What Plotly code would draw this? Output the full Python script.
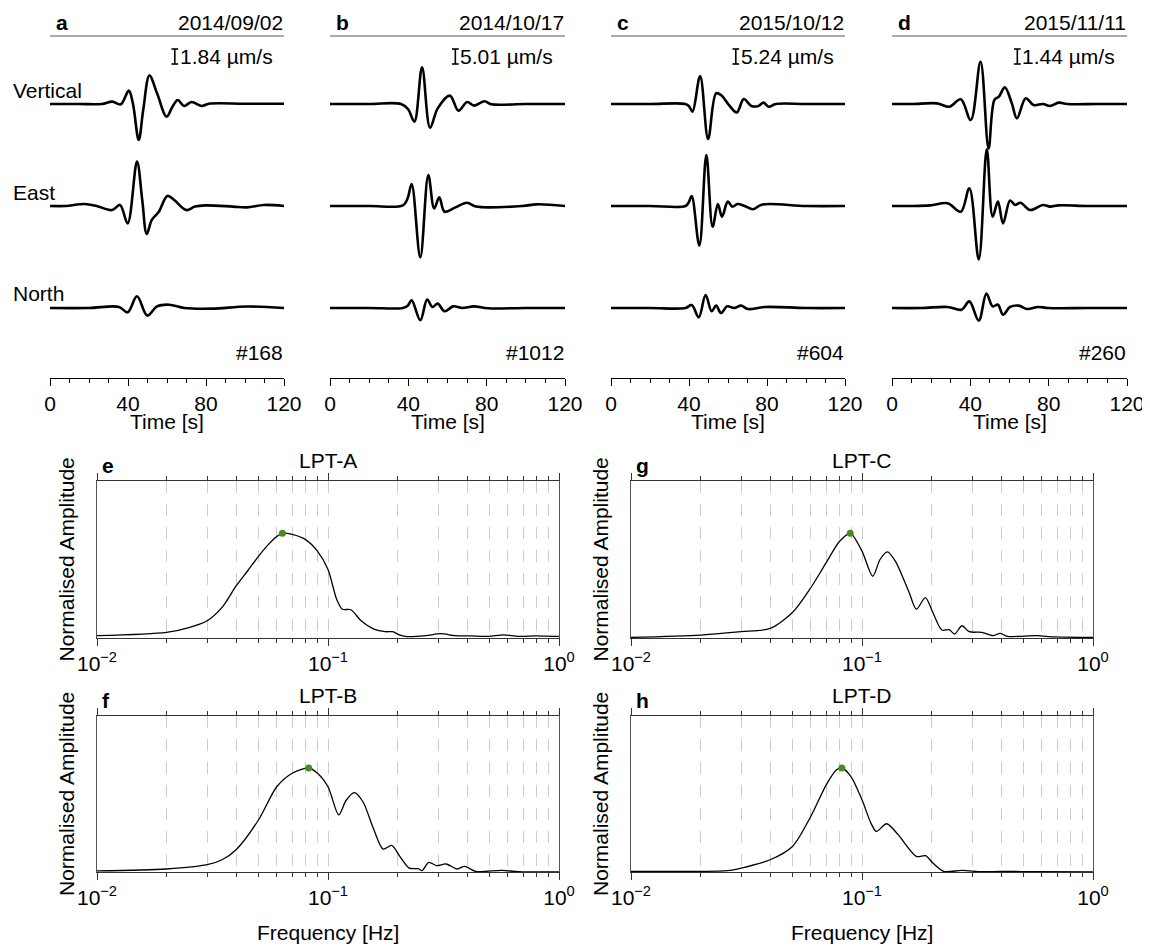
import plotly.graph_objects as go

W, H = 1150, 947
FONT = "Liberation Sans, Arial, Helvetica, sans-serif"
FS = 21

# ------------------------------------------------------------------ data
event_letters = ["a", "b", "c", "d"]
event_dates = ["2014/09/02", "2014/10/17", "2015/10/12", "2015/11/11"]
event_scales = ["1.84", "5.01", "5.24", "1.44"]          # µm/s per scale bar
event_ids = ["#168", "#1012", "#604", "#260"]
components = ["Vertical", "East", "North"]
time_ticks = [0, 40, 80, 120]

# waveforms: time [s] and amplitude in units of the panel's scale bar
a_vert_t = [0, 15, 26.6, 31.9, 36.3, 40.4, 42.5, 45.5, 47.8, 51.0, 54.9, 59.8, 62.8, 65.5, 68.7, 72.6, 77.9, 81.4, 100, 120]
a_vert_v = [0, 0, 0, 0.16, -0.02, 0.89, 0.04, -2.4, -0.4, 1.9, 0.71, -0.84, -0.18, 0.27, -0.13, 0.13, -0.13, 0.02, 0.02, 0.02]
a_east_t = [0, 8, 17.7, 23.9, 31.9, 35.9, 39.8, 44.6, 47.3, 49.6, 52.2, 55.8, 60.2, 63.7, 69.9, 74.3, 79.6, 93.8, 100.9, 109.7, 120]
a_east_v = [0, 0, 0.13, 0, -0.27, 0.07, -1.16, 2.96, 0.4, -1.87, -0.93, -0.38, 0.67, 0.4, -0.27, -0.04, 0.04, -0.04, -0.09, 0.07, 0]
a_north_t = [0, 20, 35.4, 39.8, 44.6, 49.9, 54.9, 61.1, 69.0, 83.2, 100.9, 120]
a_north_v = [0, 0, 0.07, -0.29, 0.78, -0.51, 0.11, 0.22, 0, -0.04, 0.1, 0]

b_vert_t = [0, 20, 36.3, 39.9, 43.1, 47.0, 51.1, 55.0, 61.2, 65.6, 70.0, 73.6, 78.9, 82.4, 100, 120]
b_vert_v = [0, 0, 0, -0.35, -1.18, 2.44, -1.58, -0.29, 0.56, -0.44, 0.13, -0.11, 0.18, -0.02, 0, 0]
b_east_t = [0, 20, 37.2, 39.6, 41.7, 46.1, 50.2, 53.2, 55.8, 58.5, 63.8, 70.0, 74.5, 98.4, 105.5, 120]
b_east_v = [0, 0, 0.04, 0.5, 1.47, -3.42, 2.07, -0.16, 0.58, -0.38, -0.11, 0.22, -0.04, 0, 0.11, 0]
b_north_t = [0, 20, 37.2, 39.7, 41.7, 46.1, 49.6, 52.3, 55.0, 58.5, 62.9, 67.4, 73.6, 80.7, 100, 120]
b_north_v = [0, 0, 0, 0.15, 0.51, -0.82, 0.56, 0.07, 0.29, -0.22, 0.11, 0, 0.11, -0.02, 0, 0]

c_vert_t = [0, 20, 38.2, 40.0, 41.8, 45.7, 49.8, 53.9, 56.4, 60.5, 64.5, 68.1, 72.0, 75.6, 78.2, 80.9, 84.5, 100, 120]
c_vert_v = [0, 0, 0, -0.15, -0.51, 1.87, -2.33, 0.71, 0.6, -0.07, -0.56, 0.33, -0.13, -0.13, 0.09, -0.18, 0, 0, 0]
c_east_t = [0, 20, 38.2, 39.9, 41.4, 45.3, 48.9, 52.1, 54.8, 56.9, 59.9, 62.2, 64.9, 68.5, 72.9, 77.3, 100, 120]
c_east_v = [0, 0, 0, 0.25, 0.67, -2.64, 3.4, -1.38, 0.13, -0.71, 0.29, -0.04, 0.13, 0, -0.22, 0.09, 0, 0]
c_north_t = [0, 20, 38.2, 41.4, 45.0, 48.5, 51.6, 53.9, 56.4, 59.6, 63.1, 66.7, 70.2, 79.1, 100, 120]
c_north_v = [0, 0, 0, 0.2, -0.62, 0.87, -0.22, 0.16, -0.33, 0.11, 0, 0.16, -0.07, 0.07, 0, 0]

d_vert_t = [0, 10, 23.0, 29.3, 35.1, 40.2, 45.2, 49.3, 52.3, 54.6, 57.6, 61.2, 63.8, 68.3, 72.3, 77.1, 80.7, 85.1, 89.5, 105, 120]
d_vert_v = [0, 0, 0.04, -0.18, 0.31, -1.07, 2.82, -2.96, 0.27, 0.49, 1.11, 0.04, -0.96, 0.38, -0.07, 0, -0.13, 0.09, 0, 0, 0]
d_east_t = [0, 10, 19.5, 28.4, 35.1, 39.5, 44.3, 48.4, 51.4, 54.1, 56.7, 60.3, 62.9, 65.6, 70.6, 77.1, 80.7, 85.1, 100, 120]
d_east_v = [0, 0, 0.04, 0.18, -0.38, 1.18, -3.56, 3.78, -0.71, 0.29, -1.16, 0.36, 0.07, 0.22, -0.27, 0.07, -0.04, 0.04, 0, 0]
d_north_t = [0, 15, 28.4, 35.5, 39.5, 44.3, 48.2, 51.4, 54.1, 56.7, 60.3, 64.7, 69.1, 74.5, 79.8, 100, 120]
d_north_v = [0, 0, 0.07, -0.11, 0.44, -0.84, 0.96, 0.11, 0.22, -0.44, 0.07, 0.16, -0.07, 0.07, 0, 0, 0]

# spectra: frequency [Hz] and normalised amplitude
spec_names = ["LPT-A", "LPT-B", "LPT-C", "LPT-D"]
spec_letters = ["e", "f", "g", "h"]
lpta_f = [0.01, 0.02, 0.025, 0.03, 0.035, 0.04, 0.045, 0.05, 0.055, 0.06, 0.0635, 0.07, 0.08, 0.09, 0.10, 0.109,
          0.1155, 0.1257, 0.139, 0.158, 0.177, 0.19, 0.205, 0.22, 0.265, 0.307, 0.356, 0.412, 0.496, 0.575, 0.666,
          0.80, 0.93, 1.0]
lpta_a = [0.022, 0.054, 0.10, 0.165, 0.30, 0.497, 0.645, 0.78, 0.89, 0.97, 1.0, 0.99, 0.94, 0.83, 0.655, 0.37,
          0.275, 0.27, 0.165, 0.085, 0.06, 0.06, 0.028, 0.013, 0.022, 0.041, 0.022, 0.02, 0.016, 0.03, 0.016,
          0.02, 0.016, 0.015]
lptb_f = [0.01, 0.02, 0.03, 0.0348, 0.04, 0.05, 0.06, 0.07, 0.0825, 0.09, 0.10, 0.1113, 0.1198, 0.13, 0.1415, 0.158,
          0.1733, 0.1887, 0.2046, 0.2244, 0.246, 0.2553, 0.273, 0.296, 0.3245, 0.3625, 0.39, 0.4358, 0.565, 0.666, 1.0]
lptb_a = [0.01, 0.029, 0.07, 0.118, 0.214, 0.50, 0.82, 0.95, 1.0, 0.95, 0.82, 0.55, 0.69, 0.764, 0.678, 0.406,
          0.22, 0.256, 0.15, 0.038, 0.032, 0.013, 0.093, 0.061, 0.077, 0.029, 0.054, 0.006, 0.016, 0.003, 0.0]
lptc_f = [0.01, 0.02, 0.03, 0.04, 0.05, 0.06, 0.07, 0.08, 0.0889, 0.10, 0.1113, 0.1197, 0.1287, 0.1394, 0.16, 0.172,
          0.188, 0.2026, 0.2218, 0.2385, 0.252, 0.2708, 0.291, 0.33, 0.3687, 0.396, 0.4263, 0.57, 0.683, 1.0]
lptc_a = [0.006, 0.028, 0.06, 0.092, 0.244, 0.48, 0.72, 0.924, 1.0, 0.83, 0.59, 0.75, 0.823, 0.734, 0.434, 0.275,
          0.386, 0.244, 0.076, 0.079, 0.038, 0.117, 0.06, 0.054, 0.022, 0.044, 0.016, 0.022, 0.01, 0.005]
lptd_f = [0.01, 0.02, 0.0261, 0.03, 0.04, 0.05, 0.06, 0.07, 0.0774, 0.0818, 0.0896, 0.10, 0.1093, 0.1154, 0.1278,
          0.1435, 0.172, 0.1884, 0.2026, 0.2258, 0.2708, 0.33, 0.396, 0.57, 1.0]
lptd_a = [0.006, 0.006, 0.013, 0.038, 0.118, 0.246, 0.534, 0.838, 0.98, 1.0, 0.918, 0.694, 0.47, 0.39, 0.464,
          0.358, 0.15, 0.157, 0.086, 0.006, 0.016, 0.003, 0.006, 0.003, 0.0]
freq_tickvals = [0.01, 0.1, 1]
freq_ticktext = ["10<sup>−2</sup>", "10<sup>−1</sup>", "10<sup>0</sup>"]

# ------------------------------------------------------------------ layout helpers (page pixels -> paper)
PAGE_OFF = 8  # default body margin of the html page


def px(x):
    return (x - PAGE_OFF) / W


def py(y):
    return 1 - (y - PAGE_OFF) / H


top_cols = [(50, 284), (330, 565), (611, 845), (892, 1127)]
top_y = (378, 36)            # bottom, top in px
base_px = [104, 206, 308]    # trace baselines in px
bar_px = 15.0                # scale bar height in px
bar_t = 64.0
y_lo = (base_px[0] - top_y[0]) / bar_px
y_hi = (base_px[0] - top_y[1]) / bar_px
offsets = [-(b - base_px[0]) / bar_px for b in base_px]

bot_boxes = {  # letter: (x0, x1, ytop, ybottom) px
    "e": (97, 559, 481, 638),
    "f": (97, 559, 716, 872),
    "g": (631, 1093, 481, 638),
    "h": (631, 1093, 716, 872),
}

waves = [
    [(a_vert_t, a_vert_v), (a_east_t, a_east_v), (a_north_t, a_north_v)],
    [(b_vert_t, b_vert_v), (b_east_t, b_east_v), (b_north_t, b_north_v)],
    [(c_vert_t, c_vert_v), (c_east_t, c_east_v), (c_north_t, c_north_v)],
    [(d_vert_t, d_vert_v), (d_east_t, d_east_v), (d_north_t, d_north_v)],
]
spectra = [(lpta_f, lpta_a), (lptb_f, lptb_a), (lptc_f, lptc_a), (lptd_f, lptd_a)]

fig = go.Figure()
layout = dict(
    width=W, height=H, margin=dict(l=0, r=0, t=0, b=0, pad=0, autoexpand=False),
    paper_bgcolor="white", plot_bgcolor="white", showlegend=False,
    font=dict(family=FONT, size=FS, color="black"),
)
annotations = []
shapes = []

# ---------------- top waveform panels
for i in range(4):
    n = i + 1
    xa, ya = f"x{n}", f"y{n}"
    x0, x1 = top_cols[i]
    layout[f"xaxis{n}"] = dict(
        domain=[px(x0), px(x1)], anchor=ya, range=[0, 120], automargin=False,
        tickvals=time_ticks, ticks="outside", ticklen=7, tickwidth=1.2, tickcolor="black",
        minor=dict(dtick=10, ticks="outside", ticklen=4, tickwidth=1, tickcolor="black"),
        showline=True, linecolor="black", linewidth=1.2, showgrid=False, zeroline=False,
        tickfont=dict(size=FS), fixedrange=True,
    )
    layout[f"yaxis{n}"] = dict(domain=[py(top_y[0]), py(top_y[1])], anchor=xa, automargin=False,
                               range=[y_lo, y_hi], visible=False, fixedrange=True)
    for k, (t, v) in enumerate(waves[i]):
        fig.add_trace(go.Scatter(
            x=t, y=[val + offsets[k] for val in v], xaxis=xa, yaxis=ya, mode="lines",
            line=dict(color="black", width=2.6, shape="spline", smoothing=1.0), hoverinfo="skip"))
    # scale bar (I-shape)
    yb = (base_px[0] - 64) / bar_px
    yt = yb + 1.0
    fig.add_trace(go.Scatter(
        x=[bar_t - 1.7, bar_t + 1.7, None, bar_t, bar_t, None, bar_t - 1.7, bar_t + 1.7],
        y=[yt, yt, None, yt, yb, None, yb, yb], xaxis=xa, yaxis=ya, mode="lines",
        line=dict(color="black", width=1.6), hoverinfo="skip"))
    annotations.append(dict(x=bar_t + 1.6, y=(yb + yt) / 2, xref=xa, yref=ya, text=f"{event_scales[i]} µm/s",
                            showarrow=False, xanchor="left", yanchor="middle", font=dict(size=FS)))
    # header
    shapes.append(dict(type="line", xref="paper", yref="paper", x0=px(x0), x1=px(x1), y0=py(36), y1=py(36),
                       line=dict(color="#555555", width=1)))
    annotations.append(dict(x=px(x0 + 4), y=py(22), xref="paper", yref="paper", text=f"<b>{event_letters[i]}</b>",
                            showarrow=False, xanchor="left", yanchor="middle", font=dict(size=FS)))
    annotations.append(dict(x=px(x1 + 1), y=py(22), xref="paper", yref="paper", text=event_dates[i],
                            showarrow=False, xanchor="right", yanchor="middle", font=dict(size=FS)))
    annotations.append(dict(x=px(x1 + 1), y=py(352), xref="paper", yref="paper", text=event_ids[i],
                            showarrow=False, xanchor="right", yanchor="middle", font=dict(size=FS)))
    annotations.append(dict(x=px((x0 + x1) / 2), y=py(421), xref="paper", yref="paper", text="Time [s]",
                            showarrow=False, xanchor="center", yanchor="middle", font=dict(size=FS)))

for k, lbl in enumerate(components):
    annotations.append(dict(x=px(11), y=py(base_px[k] - 14), xref="paper", yref="paper", text=lbl,
                            showarrow=False, xanchor="left", yanchor="middle", font=dict(size=FS)))

# ---------------- spectra panels
grid_style = dict(showgrid=True, gridcolor="#cccccc", gridwidth=1, griddash="12px,11px")
for j, letter in enumerate(spec_letters):
    n = 5 + j
    xa, ya = f"x{n}", f"y{n}"
    x0, x1, yt_px, yb_px = bot_boxes[letter]
    layout[f"xaxis{n}"] = dict(
        domain=[px(x0), px(x1)], anchor=ya, type="log", range=[-2, 0], automargin=False,
        tickvals=freq_tickvals, ticktext=freq_ticktext, ticks="outside", ticklen=7, tickwidth=1,
        tickcolor="#333333", showline=True, linecolor="#333333", linewidth=1.2, mirror="ticks",
        zeroline=False, tickfont=dict(size=FS), fixedrange=True,
        minor=dict(dtick="D1", ticks="outside", ticklen=4, tickwidth=1, tickcolor="#333333", **grid_style),
        **grid_style,
    )
    layout[f"yaxis{n}"] = dict(
        domain=[py(yb_px), py(yt_px)], anchor=xa, range=[0, 1.5], showline=True, mirror=True,
        linecolor="#555555", linewidth=1, ticks="", showticklabels=False, showgrid=False,
        zeroline=False, fixedrange=True, automargin=False)
    fr, am = spectra[j]
    fig.add_trace(go.Scatter(x=fr, y=am, xaxis=xa, yaxis=ya, mode="lines",
                             line=dict(color="black", width=1.3, shape="spline", smoothing=0.8),
                             hoverinfo="skip"))
    ipk = max(range(len(am)), key=lambda q: am[q])
    fig.add_trace(go.Scatter(x=[fr[ipk]], y=[am[ipk]], xaxis=xa, yaxis=ya, mode="markers",
                             marker=dict(color="#4a8a24", size=7), hoverinfo="skip"))
    annotations.append(dict(x=px((x0 + x1) / 2), y=py(yt_px - 21), xref="paper", yref="paper",
                            text=spec_names[j], showarrow=False, xanchor="center", yanchor="middle",
                            font=dict(size=FS)))
    annotations.append(dict(x=px(x0 + 3), y=py(yt_px - 16), xref="paper", yref="paper",
                            text=f"<b>{letter}</b>", showarrow=False, xanchor="left", yanchor="middle",
                            font=dict(size=FS)))
    annotations.append(dict(x=px(x0 - 31), y=py((yt_px + yb_px) / 2), xref="paper", yref="paper",
                            text="Normalised Amplitude", textangle=-90, showarrow=False,
                            xanchor="center", yanchor="middle", font=dict(size=FS)))
    if letter in ("f", "h"):
        annotations.append(dict(x=px((x0 + x1) / 2), y=py(932), xref="paper", yref="paper",
                                text="Frequency [Hz]", showarrow=False, xanchor="center",
                                yanchor="middle", font=dict(size=FS)))

layout["annotations"] = annotations
layout["shapes"] = shapes
fig.update_layout(**layout)
fig.write_html("out.html")
